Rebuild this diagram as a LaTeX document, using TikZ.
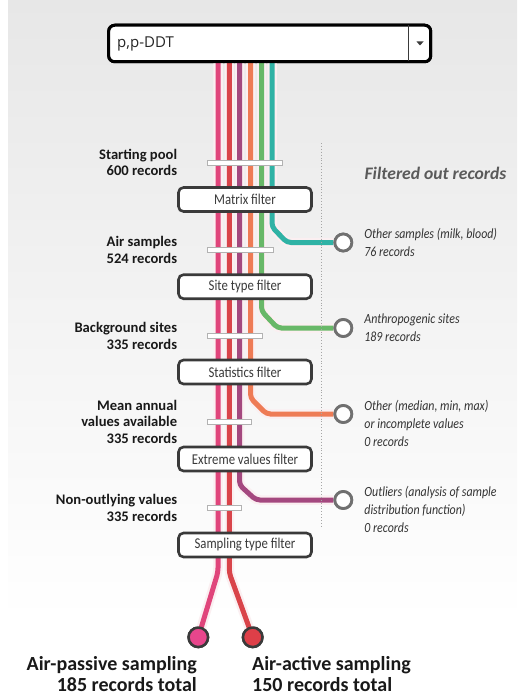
\documentclass[tikz,border=0pt]{standalone}
\usepackage{fontspec}
\setmainfont{Carlito}
\newfontfamily\condfont[FakeStretch=0.85]{Carlito}
\newfontfamily\pickfont{Open Sans}
\usetikzlibrary{positioning}

\definecolor{trackpink}{HTML}{E0457B}
\definecolor{trackred}{HTML}{D9444A}
\definecolor{trackpurple}{HTML}{A4487F}
\definecolor{trackorange}{HTML}{EE7B55}
\definecolor{trackgreen}{HTML}{68B868}
\definecolor{trackteal}{HTML}{30B2A5}
\definecolor{casing}{HTML}{FBEFF1}
\definecolor{panelgray}{HTML}{E7E7E7}
\definecolor{ringgray}{HTML}{707070}
\definecolor{boxgray}{HTML}{3A3A3A}
\definecolor{notegray}{HTML}{5A5A5A}
\definecolor{passivepink}{HTML}{E8468C}
\definecolor{activered}{HTML}{DE3F48}

\begin{document}
\begin{tikzpicture}[x=1pt,y=-1pt]
\def \xpink {218}
\def \xred {229.3}
\def \xpurple {239.5}
\def \xorange {250.5}
\def \xgreen {261.5}
\def \xteal {272}
\tikzset{
  track/.style = {line width=5pt, draw=#1, rounded corners=4pt,
                  preaction={draw=casing, line width=9.5pt}},
  filterbox/.style = {draw=boxgray, line width=2.6pt, fill=white, rounded corners=5pt,
                      minimum width=133pt, minimum height=24pt, inner sep=0pt,
                      font=\condfont\fontsize{15}{15}\selectfont, text=boxgray},
  gate/.style = {draw=gray!60, fill=white, line width=0.8pt, minimum height=5pt, inner sep=0pt},
  ring/.style = {circle, draw=ringgray, line width=2.8pt, fill=white, minimum size=17pt, inner sep=0pt},
  sink/.style = {circle, draw=boxgray, line width=2.5pt, fill=#1, minimum size=19.5pt, inner sep=0pt},
  poolnote/.style = {align=right, font=\bfseries\fontsize{14.6}{16.5}\selectfont, text=black!90, inner sep=0pt},
  outnote/.style = {align=left, font=\condfont\itshape\fontsize{14}{18}\selectfont, text=black!80, inner sep=0pt},
  endnote/.style = {inner sep=0pt, font=\bfseries\fontsize{20}{21}\selectfont, text=black!90}
}
\useasboundingbox (0,0) rectangle (517,698);
\shade[top color=panelgray, bottom color=white] (8,0) rectangle (517,620);

% dropdown
\node[draw=black, line width=3pt, fill=white, rounded corners=6pt,
      minimum width=322pt, minimum height=36.5pt] (ddt) at (269.7,43.5) {};
\foreach \nm/\xx in {pink/\xpink, red/\xred, purple/\xpurple, orange/\xorange, green/\xgreen, teal/\xteal}
  \coordinate (top\nm) at (ddt.south -| \xx,0);

% filtered out rings
\node[ring] (ring1) at (343.3,242.5) {};
\node[ring] (ring2) at (343.3,328) {};
\node[ring] (ring3) at (343.3,414) {};
\node[ring] (ring4) at (343.3,500) {};
\node[sink=passivepink] (passive) at (198.3,637.3) {};
\node[sink=activered] (active) at (252.7,637.3) {};

% tracks
\draw[track=trackteal] (topteal) -- (\xteal,227) -- (287,242.5) -- (ring1.west);
\draw[track=trackgreen] (topgreen) -- (\xgreen,311) -- (277.5,328) -- (ring2.west);
\draw[track=trackorange] (toporange) -- (\xorange,398) -- (266.5,414) -- (ring3.west);
\draw[track=trackpurple] (toppurple) -- (\xpurple,485) -- (256,500) -- (ring4.west);
\draw[track=trackred] (topred) -- (\xred,573) -- (active.center);
\draw[track=trackpink] (toppink) -- (\xpink,572) -- (passive.center);
\node[ring] at (ring1) {};
\node[ring] at (ring2) {};
\node[ring] at (ring3) {};
\node[ring] at (ring4) {};
\node[sink=passivepink] at (passive) {};
\node[sink=activered] at (active) {};

% filters
\node[filterbox] (matrix) at (245,199.5) {Matrix filter};
\node[filterbox] (sitetype) at (245,286.7) {Site type filter};
\node[filterbox] (stats) at (245,372) {Statistics filter};
\node[filterbox] (extreme) at (245,459) {Extreme values filter};
\node[filterbox] (sampling) at (245,545) {Sampling type filter};

\foreach \gy/\gx [count=\i] in {162.6/281.7, 249.7/273.3, 335.7/261.7, 421.8/250.7, 508/240.7}{
  \pgfmathsetmacro\gw{\gx-207.3}
  \node[gate, minimum width=\gw pt, anchor=west] (gate\i) at (207.3,\gy) {};
}

% left notes
\node[poolnote, left=30pt of gate1.west] {Starting pool\\600 records};
\node[poolnote, left=30pt of gate2.west] {Air samples\\524 records};
\node[poolnote, left=30pt of gate3.west] {Background sites\\335 records};
\node[poolnote, left=30pt of gate4.west] {Mean annual\\values available\\335 records};
\node[poolnote, left=30pt of gate5.west] {Non-outlying values\\335 records};

% right notes
\draw[dotted, gray!70, line width=0.9pt] (321,143) -- (321,527);
\node[inner sep=0pt, font=\bfseries\itshape\fontsize{17.6}{17.6}\selectfont, text=notegray]
  (filtered) at (435.5,173) {Filtered out records};
\node[outnote, right=11pt of ring1] {Other samples (milk, blood)\\76 records};
\node[outnote, right=11pt of ring2] {Anthropogenic sites\\189 records};
\node[outnote, right=11pt of ring3, yshift=-9pt] {Other (median, min, max)\\or incomplete values\\0 records};
\node[outnote, right=11pt of ring4, yshift=-9pt] {Outliers (analysis of sample\\distribution function)\\0 records};

% results
\node[endnote, align=right, anchor=east] (passivenote) at (197,674) {Air-passive sampling\\185 records total};
\node[endnote, align=left, anchor=west] (activenote) at (252,674) {Air-active sampling\\150 records total};

% dropdown contents
\node[draw=black, line width=3pt, fill=white, rounded corners=6pt,
      minimum width=322pt, minimum height=36.5pt] at (ddt) {};
\node[anchor=west, inner sep=0pt, font=\pickfont\fontsize{15}{15}\selectfont, text=black!85] (pick) at (117,43.5) {p,p-DDT};
\draw[boxgray, line width=0.8pt] (408.5,25.5) -- (408.5,61.5);
\fill[boxgray] (416.5,41.5) -- (423.5,41.5) -- (420,45.5) -- cycle;
\end{tikzpicture}
\end{document}
